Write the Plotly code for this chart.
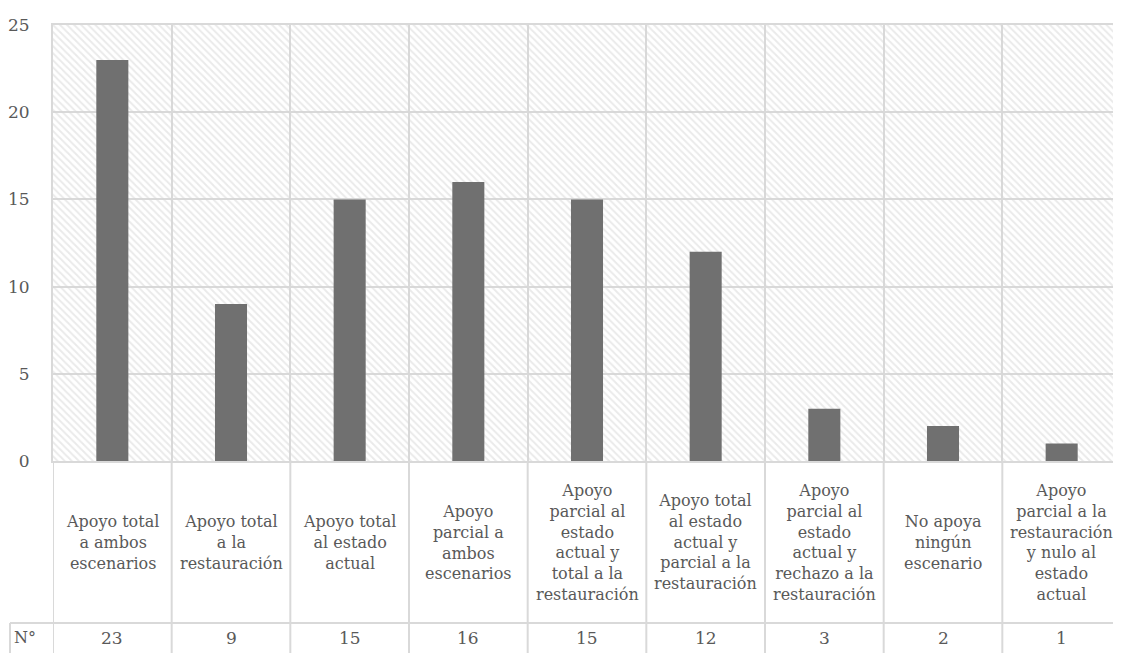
import plotly.graph_objects as go

# Data
categorias = [
    "Apoyo total<br>a ambos<br>escenarios",
    "Apoyo total<br>a la<br>restauración",
    "Apoyo total<br>al estado<br>actual",
    "Apoyo<br>parcial a<br>ambos<br>escenarios",
    "Apoyo<br>parcial al<br>estado<br>actual y<br>total a la<br>restauración",
    "Apoyo total<br>al estado<br>actual y<br>parcial a la<br>restauración",
    "Apoyo<br>parcial al<br>estado<br>actual y<br>rechazo a la<br>restauración",
    "No apoya<br>ningún<br>escenario",
    "Apoyo<br>parcial a la<br>restauración<br>y nulo al<br>estado<br>actual",
]
valores = [23, 9, 15, 16, 15, 12, 3, 2, 1]
fila_label = "N°"
y_max = 25

FONT = "DejaVu Serif"
TXT = "#595959"
GRID = "#d9d9d9"

# page geometry in reference pixels; the page body adds an 8px offset
OFF = 8
W, H = 1121, 653
M_L, M_T, M_B = 53, 25, 192
plot_h = H - M_T - M_B
plot_w = W - M_L
y0_pix = H - M_B  # pixel row of y=0


def py(pix):
    """reference pixel row -> paper y"""
    return (y0_pix - pix) / plot_h


def px(pix):
    """reference pixel column -> paper x"""
    return (pix - M_L) / plot_w


idx = list(range(len(categorias)))

fig = go.Figure()

# hatched background
fig.add_trace(go.Bar(
    x=idx,
    y=[y_max] * len(idx),
    width=1,
    marker=dict(
        color="rgba(0,0,0,0)",
        line=dict(width=0),
        pattern=dict(shape="\\", fgcolor="#d6d6d6", size=5, solidity=0.4, fillmode="overlay"),
    ),
    hoverinfo="skip",
    showlegend=False,
))

# data bars
fig.add_trace(go.Bar(
    x=idx,
    y=valores,
    width=0.27,
    marker=dict(color="#707070", line=dict(width=0)),
    showlegend=False,
    hovertemplate="%{y}<extra></extra>",
))

# table: category labels and counts
annotations = []
for i, (cat, v) in enumerate(zip(categorias, valores)):
    annotations.append(dict(
        x=i, xref="x", y=py(542), yref="paper",
        text=cat, showarrow=False, xanchor="center", yanchor="middle",
        font=dict(family=FONT, size=16, color=TXT),
    ))
    annotations.append(dict(
        x=i, xref="x", y=py(638), yref="paper",
        text=str(v), showarrow=False, xanchor="center", yanchor="middle",
        font=dict(family=FONT, size=17, color=TXT),
    ))
annotations.append(dict(
    x=px(12), xref="paper", y=py(637), yref="paper",
    text=fila_label, showarrow=False, xanchor="left", yanchor="middle",
    font=dict(family=FONT, size=16, color=TXT),
))

shapes = []
for i in range(len(categorias) + 1):
    shapes.append(dict(
        type="line", xref="x", yref="paper",
        x0=i - 0.5, x1=i - 0.5, y0=py(H + 5), y1=0,
        line=dict(color=GRID, width=2),
    ))
shapes.append(dict(
    type="line", xref="paper", yref="paper",
    x0=px(10), x1=1, y0=py(623), y1=py(623),
    line=dict(color=GRID, width=2),
))
shapes.append(dict(
    type="line", xref="paper", yref="paper",
    x0=px(10), x1=px(10), y0=py(623), y1=py(H + 5),
    line=dict(color=GRID, width=2),
))

fig.update_layout(
    width=W - OFF, height=H - OFF,
    margin=dict(l=M_L - OFF, r=0, t=M_T - OFF, b=M_B),
    barmode="overlay",
    plot_bgcolor="white",
    paper_bgcolor="white",
    font=dict(family=FONT, color=TXT),
    annotations=annotations,
    shapes=shapes,
)

fig.update_xaxes(
    type="linear",
    range=[-0.5, len(categorias) - 0.5],
    tickvals=[i - 0.5 for i in range(len(categorias) + 1)],
    showticklabels=False,
    showgrid=True, gridcolor=GRID, gridwidth=2,
    showline=True, linecolor=GRID, linewidth=2, mirror=True,
    zeroline=False,
)

fig.update_yaxes(
    range=[0, y_max],
    dtick=5,
    showgrid=True, gridcolor=GRID, gridwidth=2,
    zeroline=False,
    showline=True, linecolor=GRID, linewidth=2,
    tickfont=dict(family=FONT, size=17, color=TXT),
    ticklabelstandoff=18,
)

fig.write_html("out.html")
